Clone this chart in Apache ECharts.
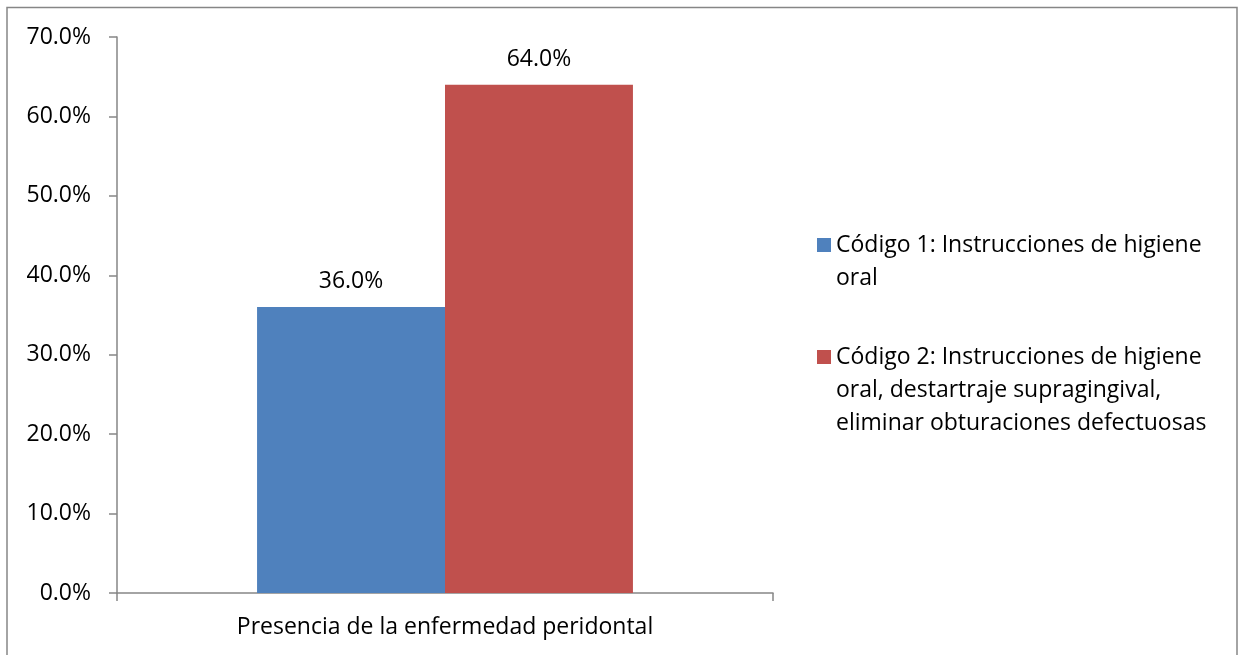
<!DOCTYPE html>
<html>
<head>
<meta charset="utf-8">
<script src="https://cdn.jsdelivr.net/npm/echarts@6/dist/echarts.min.js"></script>
<style>
  html, body { margin: 0; padding: 0; background: #ffffff; }
  #chart { width: 1241px; height: 655px; }
</style>
</head>
<body>
<div id="chart"></div>
<script>
// Category and series data
var categories = ['Presencia de la enfermedad peridontal'];
var seriesNames = [
  'Código 1: Instrucciones de higiene oral',
  'Código 2: Instrucciones de higiene oral, destartraje supragingival, eliminar obturaciones defectuosas'
];
// Legend text broken into the lines shown beside each swatch
var legendLines = [
  ['Código 1: Instrucciones de higiene', 'oral'],
  ['Código 2: Instrucciones de higiene', 'oral, destartraje supragingival,', 'eliminar obturaciones defectuosas']
];
var codigo1 = [36.0];
var codigo2 = [64.0];
var seriesColors = ['#4F81BD', '#C0504D'];

var FONT = 'Open Sans';
var FONT_SIZE = 23;
var AXIS_GREY = '#868686';
var LINE_H = 33;

function pct(v) { return v.toFixed(1) + '%'; }

// One legend per series. The text block is centred on the swatch, so blank
// lines are put in front of it to bring the first line level with the swatch.
function legendFor(i, iconCenterY) {
  var n = legendLines[i].length;
  var half = (2 * n - 1) * LINE_H / 2;
  var pad = [];
  for (var k = 0; k < n - 1; k++) { pad.push(' '); }
  var text = pad.concat(legendLines[i]).join('\n');
  return {
    orient: 'vertical',
    left: 817,
    top: iconCenterY - half,
    padding: 0,
    itemWidth: 14,
    itemHeight: 14,
    icon: 'rect',
    selectedMode: false,
    data: [seriesNames[i]],
    formatter: function () { return text; },
    textStyle: {
      fontFamily: FONT,
      fontSize: FONT_SIZE,
      color: '#000000',
      lineHeight: LINE_H
    }
  };
}

var chart = echarts.init(document.getElementById('chart'), null, { renderer: 'canvas' });
chart.setOption({
  animation: false,
  backgroundColor: '#ffffff',
  graphic: [{
    type: 'polyline',
    shape: { points: [[7, 660], [7, 7.5], [1237, 7.5], [1237, 660]] },
    style: { stroke: AXIS_GREY, lineWidth: 1.5, fill: null },
    silent: true
  }],
  legend: [legendFor(0, 245), legendFor(1, 357)],
  grid: { left: 117, right: 468, top: 37, bottom: 62, containLabel: false },
  xAxis: {
    type: 'category',
    data: categories,
    boundaryGap: true,
    axisLine: { show: true, lineStyle: { color: AXIS_GREY, width: 1.5 } },
    axisTick: { show: true, length: 8, alignWithLabel: false, lineStyle: { color: AXIS_GREY, width: 1.5 } },
    axisLabel: { margin: 23, fontFamily: FONT, fontSize: FONT_SIZE, color: '#000000' },
    splitLine: { show: false }
  },
  yAxis: {
    type: 'value',
    min: 0,
    max: 70,
    interval: 10,
    axisLine: { show: true, lineStyle: { color: AXIS_GREY, width: 1.5 } },
    axisTick: { show: true, length: 8, inside: false, lineStyle: { color: AXIS_GREY, width: 1.5 } },
    axisLabel: { margin: 26, fontFamily: FONT, fontSize: FONT_SIZE, color: '#000000', formatter: function (v) { return pct(v); } },
    splitLine: { show: false }
  },
  series: [
    {
      name: seriesNames[0],
      type: 'bar',
      data: codigo1,
      barGap: '0%',
      barCategoryGap: '42.7%',
      itemStyle: { color: seriesColors[0] },
      label: { show: true, position: 'top', distance: 14, fontFamily: FONT, fontSize: FONT_SIZE, color: '#000000', formatter: function (p) { return pct(p.value); } }
    },
    {
      name: seriesNames[1],
      type: 'bar',
      data: codigo2,
      barGap: '0%',
      barCategoryGap: '42.7%',
      itemStyle: { color: seriesColors[1] },
      label: { show: true, position: 'top', distance: 14, fontFamily: FONT, fontSize: FONT_SIZE, color: '#000000', formatter: function (p) { return pct(p.value); } }
    }
  ]
});
</script>
</body>
</html>
